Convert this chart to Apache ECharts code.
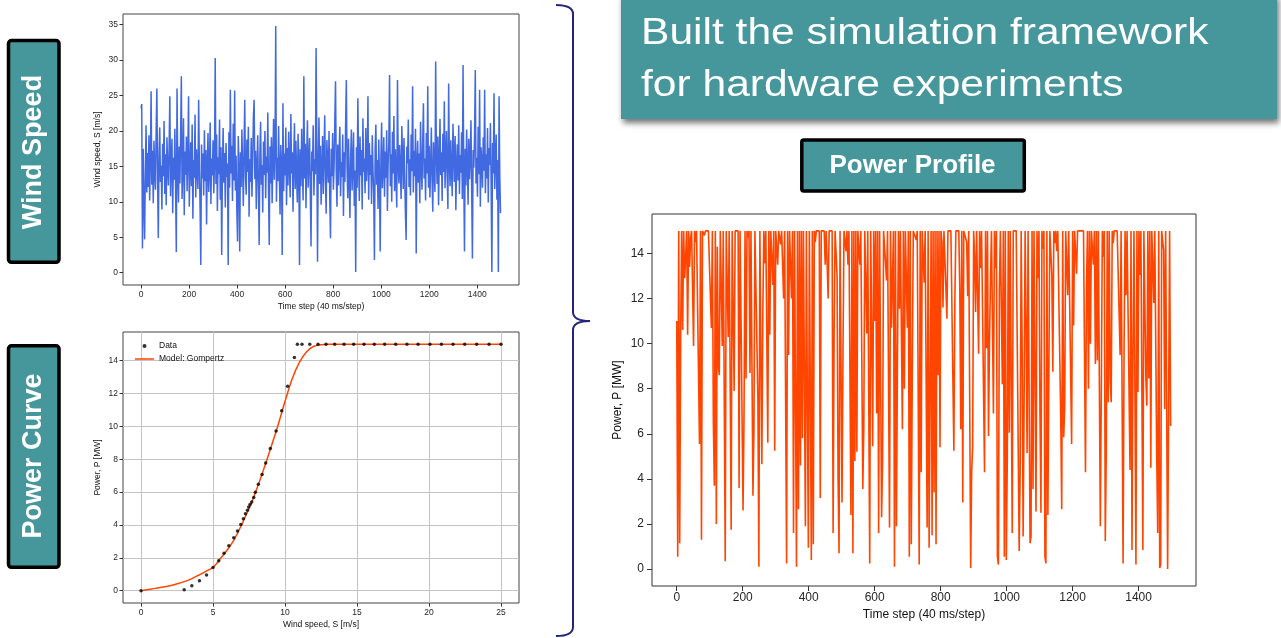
<!DOCTYPE html>
<html>
<head>
<meta charset="utf-8">
<script src="https://cdn.jsdelivr.net/npm/echarts@6/dist/echarts.min.js"></script>
<style>
  html, body { margin: 0; padding: 0; background: #fff; }
  #chart { width: 1281px; height: 638px; }
</style>
</head>
<body>
<div id="chart"></div>
<script>
// wind speed record, one value every 3rd time step (40 ms/step)
const timeStep = 3;
const windSpeed = [
  23.2,23.8,3.4,17.5,9.6,4.7,14.2,20.8,11.3,16.9,12.1,19.4,10.2,15.8,25.6,12.4,17.2,9.8,18.6,14.1,
  11.7,19.9,26.0,13.2,4.9,16.4,20.5,12.8,15.1,8.9,18.2,13.6,21.4,11.1,16.7,9.5,19.1,14.8,12.3,17.6,
  24.9,10.8,15.6,18.9,8.4,16.2,13.1,20.3,11.9,2.9,26.0,14.4,9.9,17.8,12.6,19.6,27.7,10.4,15.3,21.8,
  8.1,17.1,13.8,19.2,11.5,16.6,24.9,9.3,14.9,18.4,12.2,20.9,7.6,15.9,13.4,22.3,10.6,17.4,14.6,11.8,
  24.4,15.2,9.1,1.1,18.1,13.3,16.8,10.9,20.1,12.9,17.3,6.8,15.5,19.7,11.4,14.3,21.2,9.7,16.1,13.7,
  18.7,11.2,15.7,30.3,12.5,19.5,8.7,16.3,13.9,21.6,10.3,17.7,2.5,14.7,20.4,12.7,16.9,9.2,18.3,13.5,
  15.4,1.1,19.8,12.0,25.8,14.0,17.9,10.1,21.0,13.0,25.7,11.6,16.5,8.8,4.4,19.3,14.5,3.0,17.0,12.1,
  20.2,15.0,9.4,17.5,24.4,13.6,11.0,18.8,14.2,20.6,7.9,16.0,12.8,19.0,10.7,15.6,22.0,24.4,13.2,17.2,
  9.0,14.8,19.4,11.9,3.9,16.7,21.3,12.4,15.2,8.5,18.5,13.8,20.0,10.5,16.4,14.1,22.6,11.3,3.9,17.8,
  12.6,19.1,9.8,15.9,21.7,13.1,17.3,34.8,10.0,16.2,12.9,20.7,14.4,8.2,18.0,15.1,2.5,23.9,11.5,16.8,
  13.7,20.5,9.5,17.6,12.3,19.9,15.3,10.6,22.4,14.0,17.0,8.6,16.1,21.1,11.8,18.6,13.4,9.9,19.6,15.8,
  1.1,17.4,12.2,20.3,14.6,10.2,27.7,13.3,18.2,9.1,16.6,21.5,12.0,15.5,19.0,11.4,3.7,17.1,14.3,20.8,
  10.9,16.0,13.9,31.7,18.4,1.55,15.7,21.9,12.5,17.9,9.6,14.9,19.3,11.1,16.5,22.2,13.0,8.3,18.7,15.4,
  12.7,20.0,10.4,4.85,17.5,13.6,19.7,11.7,15.0,21.4,27.0,14.1,9.3,18.1,12.3,16.9,20.6,10.8,15.6,13.5,
  19.5,8.0,17.0,12.8,21.0,27.2,14.7,10.5,18.9,13.1,7.7,16.3,20.2,11.6,15.2,19.8,9.4,14.4,0.1,17.7,
  12.0,24.6,15.8,10.1,19.2,13.7,17.3,8.9,21.8,14.2,16.1,11.2,20.4,12.9,15.5,24.9,10.3,18.3,13.8,16.6,
  9.7,19.4,14.5,11.0,1.8,17.6,20.9,12.4,15.9,9.0,18.8,13.2,3.0,16.2,21.2,11.9,14.8,19.1,10.7,17.1,
  13.4,20.1,8.7,15.3,18.5,27.9,12.2,16.7,10.0,19.9,14.0,22.1,11.5,17.4,13.0,9.2,27.2,15.1,12.6,18.0,
  14.6,10.4,20.7,16.4,11.8,19.0,13.9,8.4,4.6,17.8,15.4,21.6,12.1,16.0,10.9,19.5,14.3,26.3,11.3,17.2,
  13.6,20.3,2.7,15.7,18.6,12.7,16.8,9.8,21.3,14.9,11.7,18.2,23.9,13.3,16.1,10.2,19.7,14.0,26.3,12.0,
  17.9,10.6,15.1,20.5,13.1,8.6,18.4,14.7,11.4,29.8,16.5,12.5,19.2,9.5,15.8,21.7,13.8,17.0,10.1,19.6,
  14.2,24.2,11.9,16.3,20.0,13.5,9.0,26.7,15.6,12.2,18.7,14.5,10.8,21.0,16.9,12.8,19.3,8.8,15.0,18.1,
  13.0,20.8,11.1,16.6,14.1,19.8,10.4,29.3,13.7,3.0,17.5,12.3,20.2,15.3,9.6,18.9,13.2,16.4,21.5,11.6,
  2.0,17.3,14.8,19.4,28.6,12.6,16.2,10.7,20.6,13.9,25.8,9.3,17.7,15.5,12.0,19.1,14.4,25.8,11.2,16.7,
  13.3,20.4,9.9,17.6,15.2,21.1,12.4,0.1,18.3,14.0,25.3,11.8,16.0,19.5,10.3,15.9,0.1,24.9,13.6,8.4
];

// power profile, same sampling
const powerProfile = [
  11.0,0.55,15,1.15,10.6,15,10.6,15,12.9,13.8,15,10.4,15,13.4,14.7,15,15,9.9,15,14.5,
  15,15,15,5.55,15,1.3,15,15,14.8,15,15,15,15,15,15,10.7,15,6.5,3.7,15,
  2.0,14.3,9.0,8.6,15,15,9.9,15,15,0.35,15,15,10.3,15,15,1.75,15,15,7.9,15,
  15,15,15,3.6,15,15,15,2.6,6.95,15,8.45,15,14.7,15,8.7,15,15,3.25,6.2,15,
  15,15,7.5,0.1,15,15,4.65,11.4,15,13.55,15,15,5.6,15,10.4,15,15,12.6,15,5.25,
  15,15,13.5,15,15,14.4,15,15,12.0,15,15,0.25,15,9.5,15,15,12.0,15,1.6,15,
  15,0.1,15,2.65,15,4.6,15,5.8,15,15,1.9,15,7.4,0.95,15,15,0.4,15,1.1,15,
  14.5,15,15,15,15,3.15,15,15,15,15,13.5,15,15,12.0,15,15,15,15,1.6,10.4,
  15,15,13.0,4.05,0.7,15,15,2.95,9.7,15,15,14.1,15,13.5,15,15,2.4,15,0.7,15,
  4.8,15,5.2,15,15,13.5,15,15,3.55,6.2,15,15,10.45,15,15,0.25,15,10.5,5.45,15,
  11.0,15,6.9,15,1.6,15,15,2.3,4.9,15,15,15,12.8,15,15,1.85,15,10.7,13.0,15,
  0.1,15,1.9,9.2,15,11.55,15,15,6.2,15,8.0,15,15,10.7,15,0.55,15,1.1,8.75,15,
  15,15,14.6,15,15,0.2,15,4.3,15,15,12.7,15,15,1.85,15,0.95,1.0,15,1.5,15,
  3.4,15,1.1,15,8.6,15,5.4,15,14.5,11.6,15,15,15,11.1,15,15,15,15,15,15,
  5.25,11.8,15,15,15,15,12.4,6.2,15,2.95,15,15,15,14.5,12.1,15,15,0.05,4.35,5.4,
  15,13.9,11.4,15,15,9.55,15,13.35,15,15,15,4.3,15,9.8,15,5.9,10.1,12.75,15,15,
  6.9,15,13.35,15,0.55,0.2,12.45,15,15,8.2,15,0.55,15,0.4,4.9,15,6.05,15,15,1.6,
  15,15,15,15,15,15,0.8,4.4,15,9.8,1.45,7.55,15,10.95,5.15,15,15,1.15,1.45,15,
  3.55,15,15,2.55,15,12.9,15,7.0,2.5,15,14.2,15,0.55,0.25,15,2.4,8.75,15,15,13.05,
  8.75,15,14.45,15,14.1,15,15,15,6.7,2.65,15,5.85,7.2,15,15,12.15,15,15,15,5.55,
  15,10.8,15,15,13.1,15,15,15,15,15,15,15,15,4.3,12.45,15,8.0,15,10.0,15,
  15,13.5,15,9.1,15,9.25,15,15,1.9,7.9,15,13.85,15,1.25,5.15,15,7.4,15,8.35,7.4,
  15,14.45,15,15,15,15,15,15,9.5,15,15,0.25,9.9,15,12.15,15,15,15,4.4,15,
  0.85,9.7,15,15,0.2,15,7.85,15,13.05,15,15,0.85,15,15,8.5,7.25,15,8.45,15,4.5,
  15,13.5,11.8,15,15,4.95,1.6,15,0.05,0.2,15,14.55,14.15,7.1,15,15,0.0,7.2,15,6.35
];

// power curve measurements
const curveSpeed = [0,3.0,3.53,4.06,4.55,5.0,5.4,5.77,6.1,6.44,6.7,6.93,7.11,7.25,7.39,7.48,7.57,7.69,7.83,7.94,
  8.15,8.41,8.66,8.98,9.38,9.77,10.18,10.65,10.86,11.18,11.72,12.29,12.85,13.45,14.1,14.77,15.49,16.2,16.92,17.69,
  18.47,19.24,20.07,20.86,21.67,22.48,23.31,24.17,25.0];
const curvePower = [0,0.05,0.3,0.61,0.96,1.41,1.83,2.28,2.73,3.22,3.63,4.03,4.38,4.69,4.89,5.09,5.24,5.4,5.67,5.99,
  6.48,7.07,7.78,8.66,9.72,10.96,12.45,14.2,15,15,15,15,15,15,15,15,15,15,15,15,
  15,15,15,15,15,15,15,15,15];

// gompertz fit as drawn
const gompSpeed = [0,0.5,1,1.5,2,2.5,3,3.5,4,4.5,5,5.5,6,6.5,7,7.5,8,8.5,9,9.5,10,10.5,11,11.5,12,12.5,13,14,16,18,20,22,25];
const gompPower = [0,0.07,0.14,0.22,0.3,0.42,0.55,0.72,0.94,1.18,1.41,1.94,2.49,3.16,4.04,5.0,6.1,7.34,8.66,10.03,
  11.52,12.9,13.9,14.55,14.88,14.97,15.0,15.0,15.0,15.0,15.0,15.0,15.0];

// tick labels
const timeTicks = [0,200,400,600,800,1000,1200,1400];
const windTicks = [0,5,10,15,20,25,30,35];
const speedTicks = [0,5,10,15,20,25];
const powerTicks = [0,2,4,6,8,10,12,14];

const FONT = '"Liberation Sans", Arial, sans-serif';
const TEAL = '#46979c';
const NAVY = '#24247e';

function axis(gridIndex, min, max, ticks, o) {
  return {
    type: 'value', gridIndex, min, max,
    name: o.name, nameLocation: 'middle', nameGap: o.nameGap,
    nameTextStyle: { fontSize: o.fs, color: '#111', fontFamily: FONT },
    axisLine: { show: false, onZero: false },
    axisTick: { show: true, inside: false, length: o.tick || 3.5, customValues: ticks,
      lineStyle: { color: '#333', width: 1 } },
    axisLabel: { customValues: ticks, fontSize: o.fs, color: '#262626', fontFamily: FONT, margin: o.margin,
      formatter: v => String(v) },
    splitLine: { show: !!o.grid, lineStyle: { color: '#c4c4c4', width: 1 } }
  };
}

function seg(x1, y1, x2, y2) {
  return { type: 'line', shape: { x1, y1, x2, y2 }, style: { stroke: NAVY, lineWidth: 2 } };
}
function hook(x1, y1, cx, cy, x2, y2) {
  return { type: 'bezierCurve', shape: { x1, y1, cpx1: cx, cpy1: cy, x2, y2 },
    style: { stroke: NAVY, lineWidth: 2, fill: null } };
}

const chart = echarts.init(document.getElementById('chart'));
chart.setOption({
  animation: false,
  backgroundColor: '#fff',
  grid: [
    { left: 123, top: 14, width: 396, height: 271, show: true, borderColor: '#444', borderWidth: 1, backgroundColor: '#fff' },
    { left: 123, top: 332, width: 396, height: 271, show: true, borderColor: '#444', borderWidth: 1, backgroundColor: '#fff' },
    { left: 652, top: 214, width: 544, height: 372, show: true, borderColor: '#333', borderWidth: 1, backgroundColor: '#fff' }
  ],
  xAxis: [
    axis(0, -75, 1574, timeTicks, { name: 'Time step (40 ms/step)', nameGap: 17, fs: 8.5, margin: 5 }),
    axis(1, -1.25, 26.25, speedTicks, { name: 'Wind speed, S [m/s]', nameGap: 17, fs: 8.5, margin: 5, grid: true }),
    axis(2, -75, 1574, timeTicks, { name: 'Time step (40 ms/step)', nameGap: 22, fs: 12, margin: 6, tick: 5 })
  ],
  yAxis: [
    axis(0, -1.74, 36.5, windTicks, { name: 'Wind speed, S [m/s]', nameGap: 21, fs: 8.5, margin: 5 }),
    axis(1, -0.75, 15.75, powerTicks, { name: 'Power, P [MW]', nameGap: 21, fs: 8.5, margin: 5, grid: true }),
    axis(2, -0.75, 15.75, powerTicks, { name: 'Power, P [MW]', nameGap: 28, fs: 12, margin: 8, tick: 5 })
  ],
  legend: {
    data: [
      { name: 'Data', icon: 'circle' },
      { name: 'Model: Gompertz', icon: 'path://M0,0H19V1.5H0Z' }
    ],
    orient: 'vertical', left: 130, top: 336,
    itemWidth: 19, itemHeight: 4, itemGap: 3,
    textStyle: { fontSize: 8.5, color: '#111', fontFamily: FONT, lineHeight: 10 }
  },
  series: [
    {
      name: 'Wind speed', type: 'line', xAxisIndex: 0, yAxisIndex: 0,
      data: windSpeed.map((v, i) => [i * timeStep, v]),
      showSymbol: false, symbol: 'none',
      lineStyle: { color: '#4169e1', width: 1.5 }
    },
    {
      name: 'Data', type: 'scatter', xAxisIndex: 1, yAxisIndex: 1,
      data: curveSpeed.map((s, i) => [s, curvePower[i]]),
      symbolSize: 3.5, itemStyle: { color: '#000' }, z: 3
    },
    {
      name: 'Model: Gompertz', type: 'line', xAxisIndex: 1, yAxisIndex: 1,
      data: gompSpeed.map((s, i) => [s, gompPower[i]]),
      smooth: 0.3, showSymbol: false, symbol: 'none',
      itemStyle: { color: '#ff4500' },
      lineStyle: { color: '#ff4500', width: 1.5 }
    },
    {
      name: 'Power profile', type: 'line', xAxisIndex: 2, yAxisIndex: 2,
      data: powerProfile.map((v, i) => [i * timeStep, v]),
      showSymbol: false, symbol: 'none',
      lineStyle: { color: '#ff4500', width: 1.6 }
    }
  ],
  graphic: [
    // title banner
    { type: 'rect', shape: { x: 621, y: -6, width: 656, height: 125 },
      style: { fill: TEAL, shadowBlur: 6, shadowOffsetX: 2, shadowOffsetY: 4, shadowColor: 'rgba(0,0,0,0.55)' } },
    { type: 'text', x: 641, y: 33.6, scaleX: 1.15,
      style: { text: 'Built the simulation framework', font: '37px ' + FONT, fill: '#fff', verticalAlign: 'middle' } },
    { type: 'text', x: 641, y: 86.2, scaleX: 1.15,
      style: { text: 'for hardware experiments', font: '37px ' + FONT, fill: '#fff', verticalAlign: 'middle' } },
    // section labels
    { type: 'rect', shape: { x: 8.5, y: 40.5, width: 50.5, height: 221.8, r: 3 },
      style: { fill: TEAL, stroke: '#000', lineWidth: 3.5 } },
    { type: 'text', x: 33.5, y: 152, rotation: Math.PI / 2,
      style: { text: 'Wind Speed', font: 'bold 27px ' + FONT, fill: '#fff', align: 'center', verticalAlign: 'middle' } },
    { type: 'rect', shape: { x: 8.5, y: 345.8, width: 50.5, height: 221.5, r: 3 },
      style: { fill: TEAL, stroke: '#000', lineWidth: 3.5 } },
    { type: 'text', x: 33.5, y: 456, rotation: Math.PI / 2,
      style: { text: 'Power Curve', font: 'bold 27px ' + FONT, fill: '#fff', align: 'center', verticalAlign: 'middle' } },
    { type: 'rect', shape: { x: 801.8, y: 140, width: 222.5, height: 51, r: 2 },
      style: { fill: TEAL, stroke: '#000', lineWidth: 3.5 } },
    { type: 'text', x: 912.5, y: 165.5,
      style: { text: 'Power Profile', font: 'bold 26px ' + FONT, fill: '#fff', align: 'center', verticalAlign: 'middle' } },
    // brace
    hook(556, 5, 573, 5, 573, 14),
    seg(573, 14, 573, 312),
    hook(573, 312, 573, 321, 590, 321),
    hook(590, 321, 573, 321, 573, 330),
    seg(573, 330, 573, 627),
    hook(573, 627, 573, 636, 556, 636)
  ]
});
</script>
</body>
</html>
